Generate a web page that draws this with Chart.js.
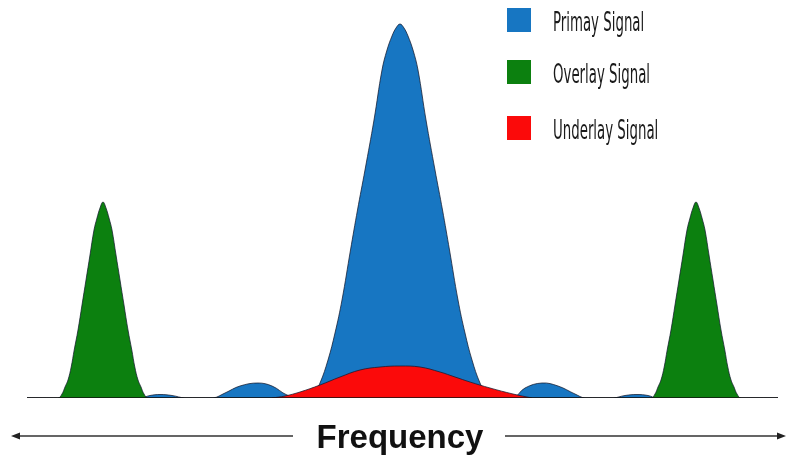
<!DOCTYPE html>
<html>
<head>
<meta charset="utf-8">
<script src="https://cdn.jsdelivr.net/npm/chart.js@4.4.1/dist/chart.umd.min.js"></script>
<style>
  html, body { margin: 0; padding: 0; background: #fff; }
  #wrap { position: relative; width: 787px; height: 457px; overflow: hidden; }
  #chart { position: absolute; left: 0; top: 0; }
  .legend-item { position: absolute; left: 507px; height: 24px; }
  .legend-box { position: absolute; left: 0; top: 0; width: 24px; height: 24px; }
  .legend-text {
    position: absolute; left: 46px; top: -1px; white-space: nowrap;
    font-family: "Liberation Sans Narrow", "DejaVu Sans Condensed", sans-serif;
    font-size: 26px; color: #1a1a1a; line-height: 30px;
    transform: scaleX(0.57); transform-origin: left center;
  }
  #freq {
    position: absolute; left: 300px; width: 200px; top: 418px; text-align: center;
    font-family: "Liberation Sans", Arial, sans-serif; font-weight: bold;
    font-size: 33px; color: #111; line-height: 38px;
  }
</style>
</head>
<body>
<div id="wrap">
  <canvas id="chart" width="787" height="457"></canvas>
  <div id="legend"></div>
  <div id="freq">Frequency</div>
</div>
<script>
// Signal shapes: [x, height above baseline]
const primaryPoints = [
    [27, 0], [140, 0], [150, 2.5], [160, 3.5], [172, 2.5], [185, 0],
    [213, 0], [225, 5], [240, 12], [258, 15], [272, 12], [287, 3], [300, 0],
    [307, 0], [313, 3], [320, 15], [328, 38], [335, 65], [342, 98], [350.5, 148],
    [357.5, 188], [365, 228], [374, 278], [382, 328], [387, 348], [392, 362],
    [396, 370], [400, 374], [404, 370], [408, 362], [413, 348], [418, 328],
    [426, 278], [435, 228], [442.5, 188], [449.5, 148], [458, 98], [465, 65],
    [472, 38], [480, 15], [487, 3], [493, 0],
    [513, 0], [525, 10], [542, 15], [558, 12], [575, 4], [585, 0],
    [613, 0], [625, 2.5], [637, 3.5], [648, 2.5], [657, 0], [778, 0]
];
const overlayPoints = [
    [27, 0], [58, 0], [62, 4], [65, 11], [68, 18], [71.2, 31], [74.2, 48], [78, 68],
    [82, 93], [86, 118], [90, 143], [94, 168], [97, 180], [100, 190], [103, 196],
    [106, 190], [109, 180], [112, 168], [116, 143], [120, 118], [124, 93], [128, 68],
    [131.8, 48], [134.8, 31], [138, 18], [141, 11], [144, 4], [148, 0],
    [651, 0], [655, 4], [658, 11], [661, 18], [664.2, 31], [667.2, 48], [671, 68],
    [675, 93], [679, 118], [683, 143], [687, 168], [690, 180], [693, 190], [696, 196],
    [699, 190], [702, 180], [705, 168], [709, 143], [713, 118], [717, 93], [721, 68],
    [724.8, 48], [727.8, 31], [731, 18], [734, 11], [737, 4], [741, 0], [778, 0]
];
const underlayPoints = [
    [272, 0], [285, 2], [300, 6], [320, 13], [340, 21], [360, 28], [380, 31],
    [400, 32], [420, 31], [440, 26], [455, 21], [470, 16], [490, 10], [513, 4], [532, 0]
];
const baselinePoints = [[27, 0], [778, 0]];

const seriesLabels = ['Primay Signal', 'Overlay Signal', 'Underlay Signal'];
const seriesColors = ['#1776c2', '#0c800f', '#fb0a0a'];

const toXY = pts => pts.map(p => ({ x: p[0], y: p[1] }));

function signal(label, color, pts, order) {
    return {
        label: label,
        data: toXY(pts),
        backgroundColor: color,
        borderColor: 'rgba(20, 25, 45, 0.75)',
        borderWidth: 1,
        fill: 'origin',
        pointRadius: 0,
        tension: 0.4,
        order: order
    };
}

// Frequency arrows on both sides of the axis label
const arrowPlugin = {
    id: 'arrows',
    afterDraw(chart) {
        const ctx = chart.ctx;
        ctx.save();
        ctx.strokeStyle = '#333';
        ctx.fillStyle = '#222';
        ctx.lineWidth = 1.5;
        ctx.beginPath();
        ctx.moveTo(18, 436); ctx.lineTo(293, 436);
        ctx.moveTo(505, 436); ctx.lineTo(779, 436);
        ctx.stroke();
        ctx.beginPath();
        ctx.moveTo(11, 436); ctx.lineTo(20, 432.5); ctx.lineTo(20, 439.5); ctx.closePath();
        ctx.moveTo(786, 436); ctx.lineTo(777, 432.5); ctx.lineTo(777, 439.5); ctx.closePath();
        ctx.fill();
        ctx.restore();
    }
};

const chart = new Chart(document.getElementById('chart'), {
    type: 'line',
    data: {
        datasets: [
            signal(seriesLabels[0], seriesColors[0], primaryPoints, 3),
            signal(seriesLabels[1], seriesColors[1], overlayPoints, 2),
            signal(seriesLabels[2], seriesColors[2], underlayPoints, 1),
            {
                label: 'baseline',
                data: toXY(baselinePoints),
                borderColor: '#111',
                borderWidth: 1.5,
                pointRadius: 0,
                fill: false,
                order: 0
            }
        ]
    },
    options: {
        responsive: false,
        animation: false,
        layout: { padding: { left: 0, right: 0, top: 0, bottom: 59 } },
        scales: {
            x: { type: 'linear', min: 0, max: 787, display: false },
            y: { min: 0, max: 398, display: false }
        },
        plugins: {
            legend: { display: false },
            tooltip: { enabled: false }
        }
    },
    plugins: [arrowPlugin]
});

// HTML legend built from the chart's own datasets
const legendTops = [8, 60, 116];
const legendEl = document.getElementById('legend');
chart.data.datasets.slice(0, 3).forEach((ds, i) => {
    const item = document.createElement('div');
    item.className = 'legend-item';
    item.style.top = legendTops[i] + 'px';
    item.innerHTML = '<div class="legend-box" style="background:' + ds.backgroundColor + '"></div>' +
        '<div class="legend-text">' + ds.label + '</div>';
    legendEl.appendChild(item);
});
</script>
</body>
</html>
